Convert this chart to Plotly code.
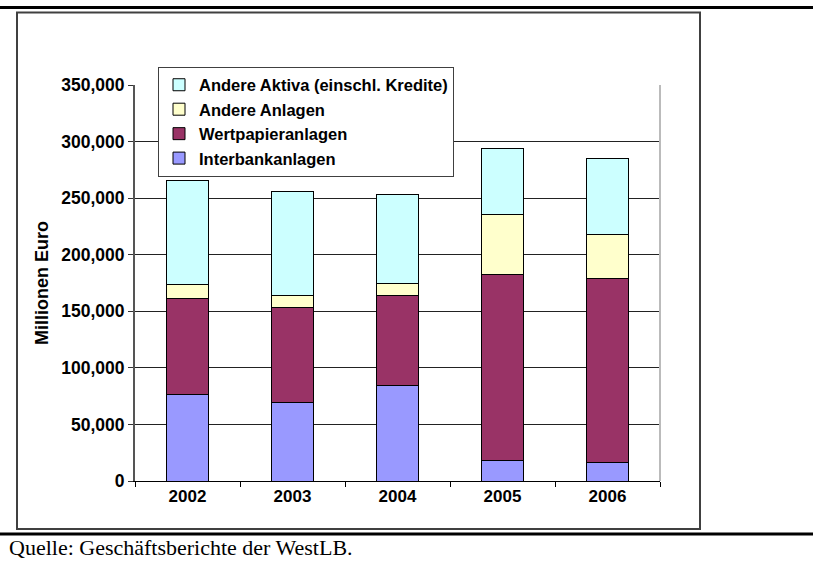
import plotly.graph_objects as go

years = ["2002", "2003", "2004", "2005", "2006"]
interbank = [76700, 69700, 84700, 18500, 16500]
wertpapier = [85000, 84000, 79600, 164100, 162300]
andere_anlagen = [12100, 10600, 10000, 53200, 38800]
andere_aktiva = [91700, 91500, 79100, 58200, 67600]
ytick_vals = [0, 50000, 100000, 150000, 200000, 250000, 300000, 350000]
ytick_text = ["0", "50,000", "100,000", "150,000", "200,000", "250,000", "300,000", "350,000"]

series = [
    ("Interbankanlagen", interbank, "#9999FF"),
    ("Wertpapieranlagen", wertpapier, "#993366"),
    ("Andere Anlagen", andere_anlagen, "#FFFFCC"),
    ("Andere Aktiva (einschl. Kredite)", andere_aktiva, "#CCFFFF"),
]

W, H = 813, 563
L, R, T, B = 135, 660, 84.5, 481

def px(x):
    return (x - L) / (R - L)

def py(y):
    return (B - y) / (B - T)

fig = go.Figure()
for name, vals, col in series:
    fig.add_trace(go.Bar(
        x=years, y=vals, name="<b>" + name + "</b>",
        marker=dict(color=col, line=dict(color="#000000", width=1)),
    ))

font = "Arial, Liberation Sans, sans-serif"
fig.update_layout(
    width=W, height=H,
    margin=dict(l=L, r=W - R, t=T, b=H - B),
    barmode="stack",
    bargap=0.6,
    plot_bgcolor="white",
    paper_bgcolor="white",
    showlegend=True,
    legend=dict(
        x=px(158), y=py(66), xanchor="left", yanchor="top",
        bgcolor="white", bordercolor="#404040", borderwidth=1,
        font=dict(family=font, size=16.5, color="black"),
        traceorder="reversed", tracegroupgap=0, itemwidth=30,
    ),
    xaxis=dict(
        tickvals=years, ticktext=["<b>" + y + "</b>" for y in years],
        showline=True, linecolor="black", linewidth=1,
        ticks="outside", ticklen=5, tickcolor="black",
        tickson="boundaries",
        tickfont=dict(family=font, size=17, color="black"),
    ),
    yaxis=dict(
        range=[0, 350000],
        tickvals=ytick_vals,
        ticktext=["<b>" + t + "</b>" for t in ytick_text],
        showgrid=True, gridcolor="#222222", gridwidth=1,
        showline=True, linecolor="#555555", linewidth=2,
        ticks="outside", ticklen=5, tickcolor="#333333",
        tickfont=dict(family=font, size=17.5, color="black"),
        title=dict(text="<b>Millionen Euro</b>", standoff=8,
                   font=dict(family=font, size=18, color="black")),
        zeroline=False,
    ),
    shapes=[
        dict(type="line", xref="paper", yref="paper", x0=1, x1=1, y0=0, y1=1,
             line=dict(color="#BBBBBB", width=2)),
        dict(type="rect", xref="paper", yref="paper",
             x0=px(17), x1=px(700), y0=py(529), y1=py(12),
             line=dict(color="#404040", width=2), layer="below"),
        dict(type="line", xref="paper", yref="paper",
             x0=px(0), x1=px(813), y0=py(7), y1=py(7),
             line=dict(color="black", width=3)),
        dict(type="line", xref="paper", yref="paper",
             x0=px(0), x1=px(813), y0=py(534), y1=py(534),
             line=dict(color="black", width=3)),
    ],
    annotations=[
        dict(text="Quelle: Geschäftsberichte der WestLB.", xref="paper", yref="paper",
             x=px(7), y=py(548), xanchor="left", yanchor="middle", showarrow=False,
             font=dict(family="Times New Roman, Liberation Serif, serif", size=22, color="black")),
    ],
)

fig.write_html("out.html")
